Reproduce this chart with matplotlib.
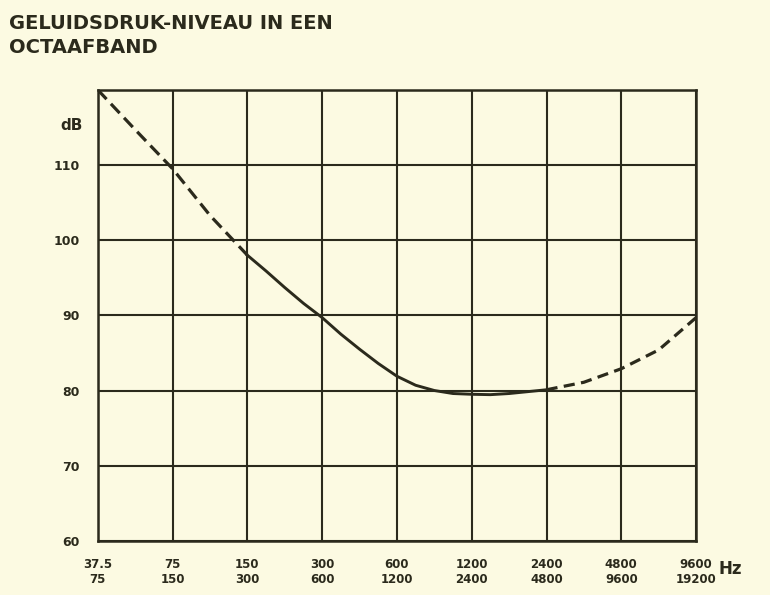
import matplotlib
matplotlib.use("Agg")
import matplotlib.pyplot as plt

# octave bands (lower / upper limit in Hz)
band_low = ["37.5", "75", "150", "300", "600", "1200", "2400", "4800", "9600"]
band_high = ["75", "150", "300", "600", "1200", "2400", "4800", "9600", "19200"]
db_ticks = [60, 70, 80, 90, 100, 110]

# curve read along the bands (position = band index)
pos_low = [0, 0.5, 1, 1.5, 2]
level_low = [120, 114.7, 109.5, 103.3, 98]
pos_mid = [2, 2.25, 2.5, 2.75, 3, 3.25, 3.5, 3.75, 4, 4.25, 4.5, 4.75, 5,
           5.25, 5.5, 5.75, 6]
level_mid = [98, 95.9, 93.7, 91.6, 89.7, 87.5, 85.5, 83.6, 81.9, 80.7, 80.0,
             79.6, 79.5, 79.45, 79.6, 79.85, 80.1]
pos_high = [6, 6.5, 7, 7.5, 8]
level_high = [80.1, 81.1, 82.9, 85.4, 89.7]

paper = "#fcfae2"
ink = "#2b2a1c"

plt.rcParams['font.family'] = ['DejaVu Sans']
plt.rcParams['font.weight'] = 'bold'

fig = plt.figure(figsize=(7.7, 5.95), dpi=100, facecolor=paper)
ax = fig.add_axes([0.127, 0.091, 0.777, 0.758], facecolor=paper)

ax.set_xlim(0, 8)
ax.set_ylim(60, 120)

# grid
for i in range(len(band_low)):
    ax.axvline(i, color=ink, lw=1.5, zorder=1)
for v in db_ticks + [120]:
    ax.axhline(v, color=ink, lw=1.5, zorder=1)
for s in ax.spines.values():
    s.set_color(ink)
    s.set_linewidth(1.8)

# sound level curve: dashed ends, solid middle
ax.plot(pos_low, level_low, color=ink, lw=2.3, ls=(0, (4, 2)), zorder=3,
        solid_joinstyle='round')
ax.plot(pos_mid, level_mid, color=ink, lw=2.1, zorder=3,
        solid_joinstyle='round')
ax.plot(pos_high, level_high, color=ink, lw=2.3, ls=(0, (3.5, 2)), zorder=3)

ax.set_xticks(range(len(band_low)))
ax.set_xticklabels([a + "\n" + b for a, b in zip(band_low, band_high)],
                   fontsize=8.5, fontweight='bold', color=ink, linespacing=1.25)
ax.set_yticks(db_ticks)
ax.set_yticklabels([str(v) for v in db_ticks], fontsize=9,
                   fontweight='bold', color=ink)
ax.tick_params(length=0)
ax.tick_params(axis='x', pad=12)
ax.tick_params(axis='y', pad=13)

ax.text(-0.2, 115.3, "dB", ha='right', va='center',
        fontsize=11, fontweight='bold', color=ink)
ax.text(8.3, 56.2, "Hz", ha='left', va='center', fontsize=12,
        fontweight='bold', color=ink, clip_on=False)

fig.text(0.012, 0.94, "GELUIDSDRUK-NIVEAU IN EEN\nOCTAAFBAND", ha='left',
         va='center', fontsize=14, fontweight='bold', color=ink,
         linespacing=1.35)

fig.savefig("out.png", dpi=100, facecolor=paper)
